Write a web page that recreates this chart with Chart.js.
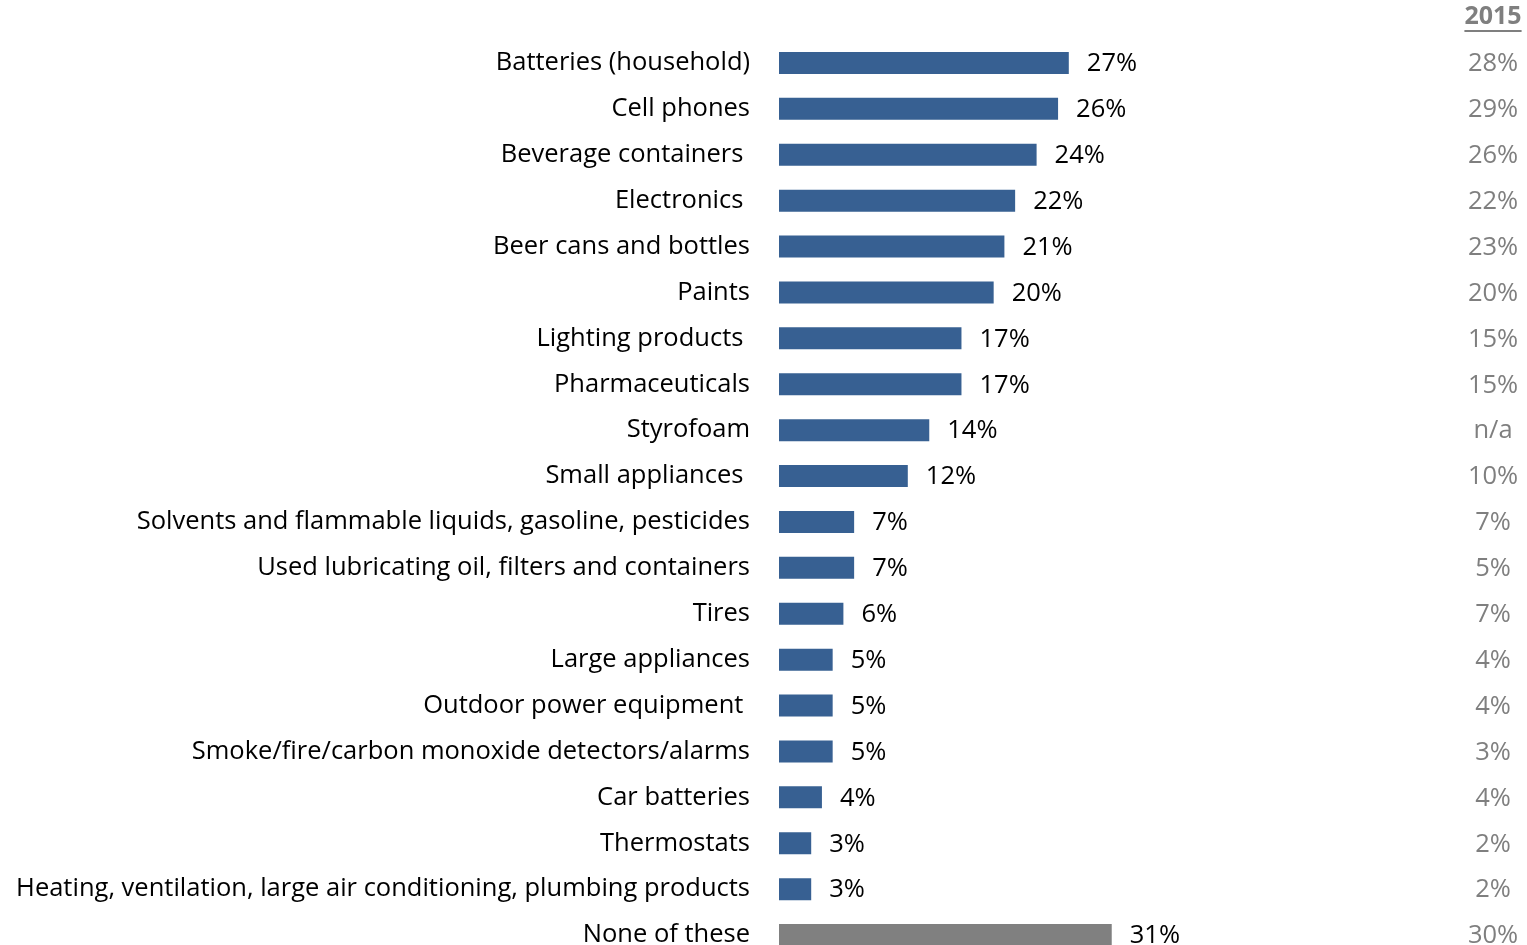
<!DOCTYPE html>
<html>
<head>
<meta charset="utf-8">
<script src="https://cdn.jsdelivr.net/npm/chart.js@4"></script>
<style>
    html, body { margin: 0; padding: 0; background: #fff; overflow: hidden; }
    #barChart { display: block; }
</style>
</head>
<body>
<canvas id="barChart"></canvas>
<script>
// categories (trailing spaces keep the slightly shifted labels of the original)
var categories = [
    'Batteries (household)',
    'Cell phones',
    'Beverage containers ',
    'Electronics ',
    'Beer cans and bottles',
    'Paints',
    'Lighting products ',
    'Pharmaceuticals',
    'Styrofoam',
    'Small appliances ',
    'Solvents and flammable liquids, gasoline, pesticides',
    'Used lubricating oil, filters and containers',
    'Tires',
    'Large appliances',
    'Outdoor power equipment ',
    'Smoke/fire/carbon monoxide detectors/alarms',
    'Car batteries',
    'Thermostats',
    'Heating, ventilation, large air conditioning, plumbing products',
    'None of these'
];
var currentValues = [27, 26, 24, 22, 21, 20, 17, 17, 14, 12, 7, 7, 6, 5, 5, 5, 4, 3, 3, 31];
var values2015 = ['28%', '29%', '26%', '22%', '23%', '20%', '15%', '15%', 'n/a', '10%',
    '7%', '5%', '7%', '4%', '4%', '3%', '4%', '2%', '2%', '30%'];
var compareHeader = '2015';

document.addEventListener('DOMContentLoaded', function () {
    var barChartElement = document.getElementById('barChart');
    // a bit taller than the window: the last row is cut off like in the original
    barChartElement.width = 1527;
    barChartElement.height = 958;

    var labelFont = '25.5px "Open Sans"';

    var barColors = categories.map(function (c, i) {
        return i === categories.length - 1 ? '#808080' : '#376092';
    });

    var labelsPlugin = {
        id: 'valueLabels',
        afterDatasetsDraw: function (chart) {
            var ctx = chart.ctx;
            var meta = chart.getDatasetMeta(0);
            ctx.save();
            ctx.font = labelFont;
            ctx.textBaseline = 'middle';
            meta.data.forEach(function (bar, i) {
                ctx.fillStyle = '#000';
                ctx.textAlign = 'left';
                ctx.fillText(currentValues[i] + '%', bar.x + 18, bar.y + 1);
                ctx.fillStyle = '#7f7f7f';
                ctx.textAlign = 'center';
                ctx.fillText(values2015[i], 1493, bar.y + 1);
            });
            // header for comparison column
            ctx.font = 'bold 25px "Open Sans"';
            ctx.fillStyle = '#7f7f7f';
            ctx.textAlign = 'center';
            ctx.fillText(compareHeader, 1493, 17);
            var w = ctx.measureText(compareHeader).width;
            ctx.fillRect(1493 - w / 2, 30, w, 2);
            ctx.restore();
        }
    };

    var barChart = new Chart(barChartElement, {
        type: 'bar',
        data: {
            labels: categories,
            datasets: [{
                data: currentValues,
                backgroundColor: barColors,
                barPercentage: 0.48,
                categoryPercentage: 1
            }]
        },
        options: {
            indexAxis: 'y',
            responsive: false,
            maintainAspectRatio: false,
            animation: false,
            layout: { padding: { top: 40, right: 104, bottom: 0, left: 0 } },
            plugins: {
                legend: { display: false },
                tooltip: { enabled: false }
            },
            scales: {
                x: {
                    display: false,
                    min: 0,
                    max: 60
                },
                y: {
                    grid: { display: false, drawTicks: false },
                    border: { display: false },
                    afterFit: function (scale) {
                        scale.width = 779;
                        scale.paddingTop = 0;
                        scale.paddingBottom = 0;
                    },
                    ticks: {
                        color: '#000',
                        padding: 29,
                        font: { family: 'Open Sans', size: 25.5 },
                        autoSkip: false
                    }
                }
            }
        },
        plugins: [labelsPlugin]
    });
});
</script>
</body>
</html>
